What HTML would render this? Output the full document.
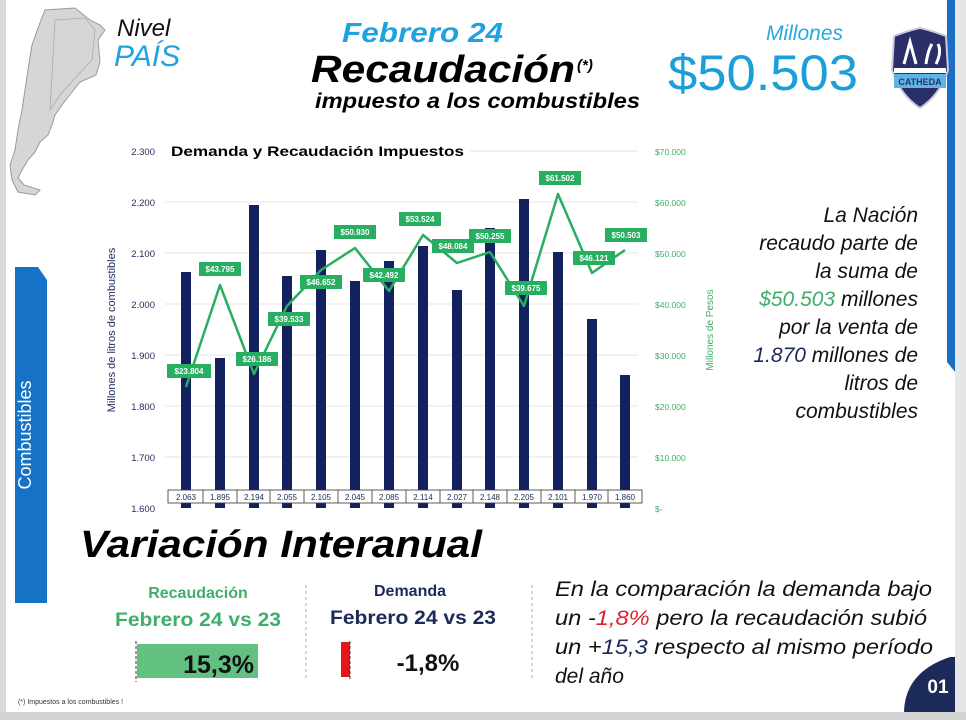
<!DOCTYPE html>
<html><head><meta charset="utf-8"><style>
html,body{margin:0;padding:0;background:#fff}
svg{display:block}
</style></head><body>
<svg width="966" height="720" viewBox="0 0 966 720" xmlns="http://www.w3.org/2000/svg" font-family="Liberation Sans, sans-serif">
<rect width="966" height="720" fill="#fff"/>
<rect x="0" y="0" width="6" height="720" fill="#d9d9d9"/>
<rect x="955" y="0" width="11" height="720" fill="#e6e6e6"/>
<rect x="947" y="0" width="8" height="362" fill="#1a6fc4"/>
<polygon points="947,362 955,362 955,372" fill="#1a6fc4"/>
<rect x="0" y="712" width="966" height="8" fill="#d4d4d4"/>
<polygon points="15,267 38,267 47,280 47,603 15,603" fill="#1572c6"/>
<text transform="translate(31,435) rotate(-90)" text-anchor="middle" fill="#fff" font-size="18">Combustibles</text>
<polygon points="45,10 75,8 90,20 100,25 105,30 98,40 100,62 96,75 80,82 72,92 62,105 55,115 52,125 48,135 40,142 35,152 28,160 22,170 18,178 24,185 40,190 35,195 18,192 12,180 10,165 15,150 18,130 22,110 25,90 28,70 32,45 38,28" fill="#d6d6d6" stroke="#9a9a9a" stroke-width="1"/>
<polygon points="55,20 85,18 95,30 92,60 75,78 60,95 50,110" fill="none" stroke="#aaa" stroke-width="0.8"/>
<text x="117" y="36" font-size="24" font-style="italic" fill="#111">Nivel</text>
<text x="114" y="66" font-size="30" font-style="italic" fill="#1fa3e0">PAÍS</text>
<text x="342" y="42" font-size="28" font-weight="bold" font-style="italic" fill="#1fa3e0" textLength="161" lengthAdjust="spacingAndGlyphs">Febrero 24</text>
<text x="311" y="82" font-size="38" font-weight="bold" font-style="italic" fill="#000" textLength="264" lengthAdjust="spacingAndGlyphs">Recaudación</text>
<text x="577" y="70" font-size="15" font-weight="bold" font-style="italic" fill="#000">(*)</text>
<text x="315" y="108" font-size="21" font-weight="bold" font-style="italic" fill="#000" textLength="325" lengthAdjust="spacingAndGlyphs">impuesto a los combustibles</text>
<text x="843" y="40" text-anchor="end" font-size="21" font-style="italic" fill="#29a8df">Millones</text>
<text x="858" y="90" text-anchor="end" font-size="50" fill="#1a9fd8" textLength="190" lengthAdjust="spacingAndGlyphs">$50.503</text>
<g transform="translate(890,30)">
<path d="M4,6 Q20,0 30,-2 Q40,0 56,6 L58,40 Q50,65 30,78 Q10,65 2,40 Z" fill="#2a2f6a" stroke="#ccd" stroke-width="2"/>
<rect x="4" y="38" width="52" height="5" fill="#fff"/>
<rect x="4" y="44" width="52" height="14" fill="#5fb4e6"/>
<text x="30" y="55" text-anchor="middle" font-size="9" font-weight="bold" fill="#2a2f6a">CATHEDA</text>
<path d="M14,34 L20,12 L26,34 M36,34 Q38,20 42,14 M46,34 Q52,22 48,14" stroke="#fff" stroke-width="3" fill="none"/>
</g>
<g stroke="#e4e4e4" stroke-width="1">
<line x1="165" y1="202" x2="638" y2="202"/><line x1="165" y1="253" x2="638" y2="253"/>
<line x1="165" y1="304" x2="638" y2="304"/><line x1="165" y1="355" x2="638" y2="355"/>
<line x1="165" y1="406" x2="638" y2="406"/><line x1="165" y1="457" x2="638" y2="457"/>
<line x1="470" y1="151" x2="638" y2="151"/>
</g>
<g font-size="9.5" fill="#1c2a5a" text-anchor="end">
<text x="155" y="155">2.300</text><text x="155" y="206">2.200</text><text x="155" y="257">2.100</text>
<text x="155" y="308">2.000</text><text x="155" y="359">1.900</text><text x="155" y="410">1.800</text>
<text x="155" y="461">1.700</text><text x="155" y="512">1.600</text>
</g>
<g font-size="8.5" fill="#3fae6a">
<text x="655" y="155">$70.000</text><text x="655" y="206">$60.000</text><text x="655" y="257">$50.000</text>
<text x="655" y="308">$40.000</text><text x="655" y="359">$30.000</text><text x="655" y="410">$20.000</text>
<text x="655" y="461">$10.000</text><text x="655" y="512">$-</text>
</g>
<text transform="translate(115,330) rotate(-90)" text-anchor="middle" font-size="11" fill="#1c2a5a">Millones de litros de combustibles</text>
<text transform="translate(713,330) rotate(-90)" text-anchor="middle" font-size="10" fill="#3fae6a">Millones de Pesos</text>
<text x="171" y="156" font-size="14" font-weight="bold" fill="#000" textLength="293" lengthAdjust="spacingAndGlyphs">Demanda y Recaudación Impuestos</text>
<g fill="#14215f">
<rect x="181" y="272" width="10" height="236"/><rect x="215" y="358" width="10" height="150"/>
<rect x="249" y="205" width="10" height="303"/><rect x="282" y="276" width="10" height="232"/>
<rect x="316" y="250" width="10" height="258"/><rect x="350" y="281" width="10" height="227"/>
<rect x="384" y="261" width="10" height="247"/><rect x="418" y="246" width="10" height="262"/>
<rect x="452" y="290" width="10" height="218"/><rect x="485" y="228" width="10" height="280"/>
<rect x="519" y="199" width="10" height="309"/><rect x="553" y="252" width="10" height="256"/>
<rect x="587" y="319" width="10" height="189"/><rect x="620" y="375" width="10" height="133"/>
</g>
<rect x="168" y="490" width="474" height="13" fill="#fff" stroke="#333" stroke-width="0.8"/>
<g stroke="#333" stroke-width="0.8">
<line x1="203" y1="490" x2="203" y2="503"/><line x1="237" y1="490" x2="237" y2="503"/><line x1="270" y1="490" x2="270" y2="503"/>
<line x1="304" y1="490" x2="304" y2="503"/><line x1="338" y1="490" x2="338" y2="503"/><line x1="372" y1="490" x2="372" y2="503"/>
<line x1="406" y1="490" x2="406" y2="503"/><line x1="440" y1="490" x2="440" y2="503"/><line x1="473" y1="490" x2="473" y2="503"/>
<line x1="507" y1="490" x2="507" y2="503"/><line x1="541" y1="490" x2="541" y2="503"/><line x1="575" y1="490" x2="575" y2="503"/>
<line x1="608" y1="490" x2="608" y2="503"/>
</g>
<g font-size="8" fill="#1c2a5a" text-anchor="middle">
<text x="186" y="500">2.063</text><text x="220" y="500">1.895</text><text x="254" y="500">2.194</text><text x="287" y="500">2.055</text>
<text x="321" y="500">2.105</text><text x="355" y="500">2.045</text><text x="389" y="500">2.085</text><text x="423" y="500">2.114</text>
<text x="457" y="500">2.027</text><text x="490" y="500">2.148</text><text x="524" y="500">2.205</text><text x="558" y="500">2.101</text>
<text x="592" y="500">1.970</text><text x="625" y="500">1.860</text>
</g>
<polyline fill="none" stroke="#27ae60" stroke-width="2.5" stroke-linejoin="round" points="186,387 220,285 254,374 287,306 321,270 355,248 389,291 423,235 457,263 490,252 524,306 558,194 592,273 625,250"/>
<g font-size="8" font-weight="bold" fill="#fff" text-anchor="middle">
<g fill="#27ae60"><rect x="167" y="364" width="44" height="14"/><rect x="199" y="262" width="42" height="14"/><rect x="236" y="352" width="42" height="14"/>
<rect x="268" y="312" width="42" height="14"/><rect x="300" y="275" width="42" height="14"/><rect x="334" y="225" width="42" height="14"/>
<rect x="363" y="268" width="42" height="14"/><rect x="399" y="212" width="42" height="14"/><rect x="432" y="239" width="42" height="14"/>
<rect x="469" y="229" width="42" height="14"/><rect x="505" y="281" width="42" height="14"/><rect x="539" y="171" width="42" height="14"/>
<rect x="573" y="251" width="42" height="14"/><rect x="605" y="228" width="42" height="14"/></g>
<text x="189" y="374">$23.804</text><text x="220" y="272">$43.795</text><text x="257" y="362">$26.186</text>
<text x="289" y="322">$39.533</text><text x="321" y="285">$46.652</text><text x="355" y="235">$50.930</text>
<text x="384" y="278">$42.492</text><text x="420" y="222">$53.524</text><text x="453" y="249">$48.084</text>
<text x="490" y="239">$50.255</text><text x="526" y="291">$39.675</text><text x="560" y="181">$61.502</text>
<text x="594" y="261">$46.121</text><text x="626" y="238">$50.503</text>
</g>
<g font-size="21" font-style="italic" fill="#111" text-anchor="end">
<text x="918" y="222">La Nación</text>
<text x="918" y="250">recaudo parte de</text>
<text x="918" y="278">la suma de</text>
<text x="918" y="306"><tspan fill="#3fae6a">$50.503</tspan> millones</text>
<text x="918" y="334">por la venta de</text>
<text x="918" y="362"><tspan fill="#1c2a5a">1.870</tspan> millones de</text>
<text x="918" y="390">litros de</text>
<text x="918" y="418">combustibles</text>
</g>
<text x="80" y="557" font-size="38" font-weight="bold" font-style="italic" fill="#000" textLength="402" lengthAdjust="spacingAndGlyphs">Variación Interanual</text>
<text x="198" y="598" text-anchor="middle" font-size="16" font-weight="bold" fill="#3fae6a">Recaudación</text>
<text x="198" y="626" text-anchor="middle" font-size="19" font-weight="bold" fill="#3fae6a" textLength="166" lengthAdjust="spacingAndGlyphs">Febrero 24 vs 23</text>
<rect x="137" y="644" width="121" height="34" fill="#62c080"/>
<line x1="136" y1="641" x2="136" y2="682" stroke="#333" stroke-width="1" stroke-dasharray="3,2"/>
<text x="254" y="673" text-anchor="end" font-size="25" font-weight="bold" fill="#111">15,3%</text>
<line x1="306" y1="585" x2="306" y2="680" stroke="#aaa" stroke-width="1" stroke-dasharray="3,3"/>
<text x="410" y="596" text-anchor="middle" font-size="16" font-weight="bold" fill="#1c2a5a">Demanda</text>
<text x="413" y="624" text-anchor="middle" font-size="19" font-weight="bold" fill="#1c2a5a" textLength="166" lengthAdjust="spacingAndGlyphs">Febrero 24 vs 23</text>
<rect x="341" y="642" width="9" height="35" fill="#e8141b"/>
<line x1="350" y1="641" x2="350" y2="680" stroke="#333" stroke-width="1" stroke-dasharray="3,2"/>
<text x="428" y="671" text-anchor="middle" font-size="24" font-weight="bold" fill="#111">-1,8%</text>
<line x1="532" y1="585" x2="532" y2="680" stroke="#aaa" stroke-width="1" stroke-dasharray="3,3"/>
<g font-size="21" font-style="italic" fill="#111">
<text x="555" y="596" textLength="377" lengthAdjust="spacingAndGlyphs">En la comparación la demanda bajo</text>
<text x="555" y="625" textLength="372" lengthAdjust="spacingAndGlyphs">un -<tspan fill="#d9262d">1,8%</tspan> pero la recaudación subió</text>
<text x="555" y="654" textLength="378" lengthAdjust="spacingAndGlyphs">un +<tspan fill="#1c2a5a">15,3</tspan> respecto al mismo período</text>
<text x="555" y="683">del año</text>
</g>
<path d="M904,712 Q905,672 950,657 L955,657 L955,712 Z" fill="#1c2a5a"/>
<text x="938" y="693" text-anchor="middle" font-size="19" font-weight="bold" fill="#fff">01</text>
<text x="18" y="704" font-size="7" fill="#333">(*) Impuestos a los combustibles !</text>
</svg>
</body></html>
